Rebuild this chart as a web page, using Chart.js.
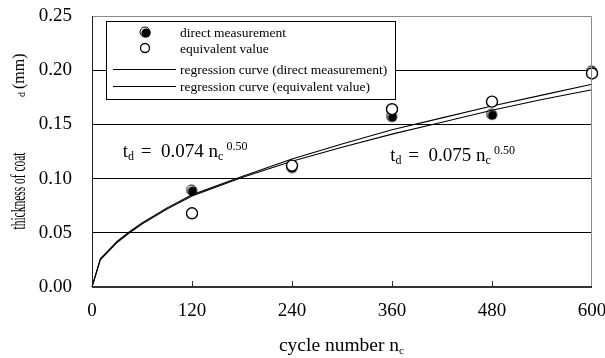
<!DOCTYPE html>
<html>
<head>
<meta charset="utf-8">
<script src="https://cdn.jsdelivr.net/npm/chart.js@4"></script>
<style>
  html, body { margin: 0; padding: 0; background: #fff; }
  #wrap { width: 605px; height: 358px; }
</style>
</head>
<body>
<div id="wrap"><canvas id="coatChart" width="605" height="358"></canvas></div>
<script>
// mesures (cycles 120 a 600)
const cycleNumbers = [120, 240, 360, 480, 600];
const directValues = [0.089, 0.110, 0.157, 0.159, 0.199];
const equivalentValues = [0.068, 0.112, 0.164, 0.171, 0.197];

// courbes de regression
const curveCycles = [0, 10, 20, 30, 45, 60, 90, 120, 180, 240, 300, 360, 420, 480, 540, 600];
const curveDirect = [0, 0.026, 0.034, 0.042, 0.051, 0.059, 0.073, 0.085, 0.102, 0.118, 0.132, 0.145, 0.156, 0.167, 0.177, 0.187];
const curveEquivalent = [0, 0.025, 0.033, 0.041, 0.050, 0.058, 0.072, 0.084, 0.101, 0.116, 0.129, 0.141, 0.152, 0.163, 0.173, 0.182];

const xTicks = [0, 120, 240, 360, 480, 600];
const yTicks = [0, 0.05, 0.10, 0.15, 0.20, 0.25];

const legendLabels = ['direct measurement', 'equivalent value',
    'regression curve (direct measurement)', 'regression curve (equivalent value)'];

const SERIF = '"Liberation Serif", "Times New Roman", serif';

// marqueur plein avec reflet
function makeFilledMarker() {
    const c = document.createElement('canvas');
    c.width = 13; c.height = 13;
    const g = c.getContext('2d');
    g.strokeStyle = '#000';
    g.lineWidth = 1;
    g.beginPath(); g.arc(6, 6, 5, 0, Math.PI * 2); g.stroke();
    g.fillStyle = '#000';
    g.beginPath(); g.arc(7, 7, 4.6, 0, Math.PI * 2); g.fill();
    return c;
}
const filledMarker = makeFilledMarker();

function toXY(xs, ys) {
    return xs.map((x, i) => ({ x: x, y: ys[i] }));
}

// cadre, ticks internes, titres et legende
const decorPlugin = {
    id: 'decor',
    afterDraw(chart) {
        const ctx = chart.ctx;
        const a = chart.chartArea;
        const xs = chart.scales.x, ys = chart.scales.y;
        ctx.save();

        // cadre
        ctx.lineWidth = 1;
        ctx.strokeStyle = '#8a8a8a';
        ctx.beginPath();
        ctx.moveTo(a.left, a.top + 0.5); ctx.lineTo(a.right - 0.5, a.top + 0.5);
        ctx.lineTo(a.right - 0.5, a.bottom);
        ctx.stroke();
        ctx.strokeStyle = '#222';
        ctx.beginPath();
        ctx.moveTo(a.left + 0.5, a.top); ctx.lineTo(a.left + 0.5, a.bottom);
        ctx.stroke();
        ctx.lineWidth = 2;
        ctx.strokeStyle = '#333';
        ctx.beginPath();
        ctx.moveTo(a.left, a.bottom); ctx.lineTo(a.right, a.bottom);
        ctx.stroke();

        // ticks vers l'interieur
        ctx.lineWidth = 1;
        xTicks.slice(1, -1).forEach(v => {
            const px = Math.round(xs.getPixelForValue(v)) + 0.5;
            ctx.beginPath(); ctx.moveTo(px, a.bottom); ctx.lineTo(px, a.bottom - 6); ctx.stroke();
        });

        // titre axe x
        ctx.fillStyle = '#000';
        ctx.textBaseline = 'alphabetic';
        ctx.textAlign = 'left';
        ctx.font = '19.5px ' + SERIF;
        const t1 = 'cycle number n';
        const w1 = ctx.measureText(t1).width;
        const cx = (a.left + a.right) / 2;
        const bx = cx - (w1 + 6) / 2;
        ctx.fillText(t1, bx, 351);
        ctx.font = '11px ' + SERIF;
        ctx.fillText('c', bx + w1, 354);

        // titre axe y (texte compresse)
        ctx.save();
        ctx.translate(25, 0);
        ctx.rotate(-Math.PI / 2);
        ctx.font = '21px ' + SERIF;
        ctx.textAlign = 'center';
        ctx.fillText('thickness of coat', -191, 0, 77);
        ctx.textAlign = 'left';
        ctx.font = '10px ' + SERIF;
        ctx.fillText('d', -97, 0);
        ctx.font = '16px ' + SERIF;
        ctx.fillText('(mm)', -89, -1);
        ctx.restore();

        // equations
        function equation(txt, n, v) {
            const px = xs.getPixelForValue(n), py = ys.getPixelForValue(v);
            let x = px;
            ctx.font = '19px ' + SERIF;
            ctx.fillText('t', x, py); x += ctx.measureText('t').width;
            ctx.font = '12px ' + SERIF;
            ctx.fillText('d', x, py + 3); x += ctx.measureText('d').width + 2;
            ctx.font = '19px ' + SERIF;
            const mid = ' =  ' + txt + ' n';
            ctx.fillText(mid, x, py); x += ctx.measureText(mid).width;
            ctx.font = '12px ' + SERIF;
            ctx.fillText('c', x, py + 3); x += ctx.measureText('c').width + 3;
            ctx.fillText('0.50', x, py - 7);
        }
        equation('0.074', 37, 0.120);
        equation('0.075', 358, 0.116);

        // legende
        const lx = 106, ly = 21, lw = 289, lh = 78;
        ctx.fillStyle = '#fff';
        ctx.fillRect(lx, ly, lw, lh);
        ctx.strokeStyle = '#000';
        ctx.lineWidth = 1;
        ctx.strokeRect(lx + 0.5, ly + 0.5, lw, lh);
        const rows = [32, 48, 69, 86];
        ctx.font = '13.5px ' + SERIF;
        ctx.textBaseline = 'middle';
        ctx.fillStyle = '#000';
        rows.forEach((ry, i) => {
            if (i === 0) {
                ctx.drawImage(filledMarker, 145 - 6, ry - 6);
            } else if (i === 1) {
                ctx.fillStyle = '#fff';
                ctx.beginPath(); ctx.arc(145, ry, 4.5, 0, Math.PI * 2); ctx.fill();
                ctx.lineWidth = 1.3;
                ctx.stroke();
                ctx.fillStyle = '#000';
            } else {
                ctx.lineWidth = 1;
                ctx.beginPath(); ctx.moveTo(113, ry + 0.5); ctx.lineTo(176, ry + 0.5); ctx.stroke();
            }
            ctx.fillText(legendLabels[i], 180, ry + 1);
        });
        ctx.restore();
    }
};

const ctx = document.getElementById('coatChart').getContext('2d');
new Chart(ctx, {
    type: 'scatter',
    data: {
        datasets: [
            {
                label: legendLabels[2],
                data: toXY(curveCycles, curveDirect),
                showLine: true,
                borderColor: '#000',
                borderWidth: 1.1,
                pointRadius: 0,
                tension: 0,
                order: 3
            },
            {
                label: legendLabels[3],
                data: toXY(curveCycles, curveEquivalent),
                showLine: true,
                borderColor: '#000',
                borderWidth: 1.1,
                pointRadius: 0,
                tension: 0,
                order: 3
            },
            {
                label: legendLabels[0],
                data: toXY(cycleNumbers, directValues),
                pointStyle: filledMarker,
                pointRadius: 6,
                order: 2
            },
            {
                label: legendLabels[1],
                data: toXY(cycleNumbers, equivalentValues),
                pointStyle: 'circle',
                pointRadius: 5.5,
                backgroundColor: '#fff',
                borderColor: '#000',
                borderWidth: 1.4,
                order: 1
            }
        ]
    },
    options: {
        responsive: false,
        animation: false,
        clip: false,
        layout: { padding: { top: 16, right: 13, left: 0, bottom: 0 } },
        plugins: {
            legend: { display: false },
            tooltip: { enabled: false }
        },
        scales: {
            x: {
                type: 'linear',
                min: 0,
                max: 600,
                afterBuildTicks: s => { s.ticks = xTicks.map(v => ({ value: v })); },
                afterFit: s => { s.height = 71; s.paddingLeft = 0; s.paddingRight = 0; },
                grid: { display: false, drawTicks: false },
                border: { display: false },
                ticks: {
                    padding: 13,
                    color: '#000',
                    maxRotation: 0,
                    font: { family: SERIF, size: 19 }
                }
            },
            y: {
                type: 'linear',
                min: 0,
                max: 0.25,
                afterBuildTicks: s => { s.ticks = yTicks.map(v => ({ value: v })); },
                afterFit: s => { s.width = 92; s.paddingTop = 0; s.paddingBottom = 0; },
                grid: {
                    drawTicks: false,
                    color: ctx2 => (ctx2.tick.value > 0 && ctx2.tick.value < 0.25) ? '#000' : 'rgba(0,0,0,0)',
                    lineWidth: 1
                },
                border: { display: false },
                ticks: {
                    padding: 20,
                    color: '#000',
                    font: { family: SERIF, size: 19 },
                    callback: v => v.toFixed(2)
                }
            }
        }
    },
    plugins: [decorPlugin]
});
</script>
</body>
</html>
